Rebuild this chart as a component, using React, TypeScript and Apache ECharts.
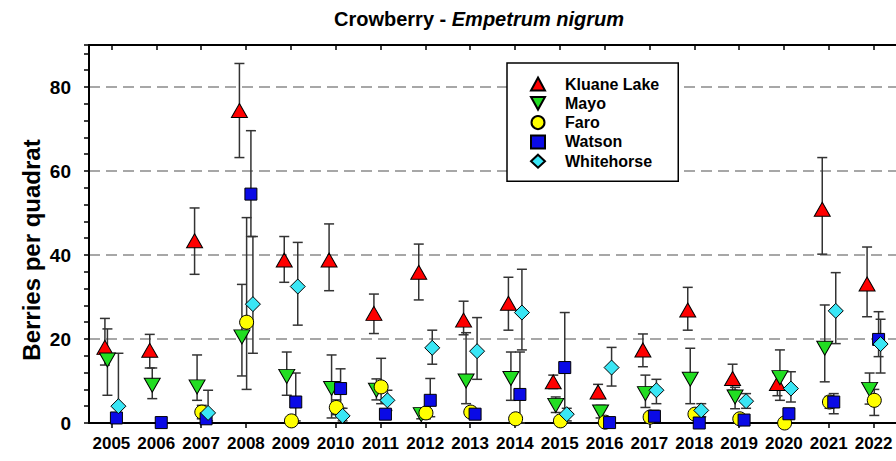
import React, { useEffect, useRef } from 'react';
import * as echarts from 'echarts';

const years = ['2005','2006','2007','2008','2009','2010','2011','2012','2013','2014','2015','2016','2017','2018','2019','2020','2021','2022'];

// Kluane Lake
const kluaneMean = [18.0, 17.3, 43.4, 74.4, 38.8, 38.8, 26.1, 35.9, 24.5, 28.5, 9.8, 7.4, 17.4, 26.9, 10.6, 9.4, 50.9, 33.1];
const kluaneLow  = [13.8, 13.1, 35.4, 63.2, 33.5, 31.5, 21.3, 29.3, 21.0, 22.1, 8.2, 5.8, 13.4, 22.1, 7.8, 6.5, 40.2, 25.3];
const kluaneHigh = [24.9, 21.1, 51.2, 85.6, 44.4, 47.4, 30.7, 42.6, 29.0, 34.7, 11.4, 9.2, 21.2, 32.3, 14.0, 12.0, 63.2, 41.9];
// Mayo
const mayoMean = [15.0, 9.0, 8.6, 20.5, 11.1, 8.2, 7.8, 2.0, 10.0, 10.6, 4.2, 2.6, 7.0, 10.4, 6.2, 10.8, 17.8, 8.0];
const mayoLow  = [6.6, 5.8, 5.4, 11.2, 6.6, 1.2, 5.5, 1.0, 4.6, 5.4, 2.5, 1.2, 3.7, 4.6, 3.4, 5.4, 9.8, 4.5];
const mayoHigh = [22.4, 13.1, 16.2, 33.0, 16.9, 16.2, 10.5, 3.0, 21.5, 16.9, 6.2, 4.2, 11.4, 17.8, 8.5, 17.4, 28.1, 11.9];
// Faro
const faroMean = [null, null, 2.6, 24.0, 0.5, 3.7, 8.6, 2.4, 2.6, 1.0, 0.5, 0.2, 1.4, 2.1, 1.0, 0.0, 5.0, 5.4];
const faroLow  = [null, null, 1.0, 8.0, null, 2.0, 4.6, 1.0, 1.5, null, null, null, null, null, null, null, 3.5, 1.8];
const faroHigh = [null, null, 4.2, 48.9, null, 5.5, 15.4, 3.5, 3.8, null, null, null, null, null, null, null, 6.3, 8.0];
// Watson
const watsonMean = [1.2, 0.1, 1.0, 54.5, 5.0, 8.2, 2.1, 5.4, 2.1, 6.8, 13.2, 0.1, 1.6, 0.0, 0.7, 2.2, 5.0, 19.9];
const watsonLow  = [null, null, null, 44.4, 0.5, 3.5, 1.2, 1.5, null, 0.0, 0.0, null, 0.5, null, null, 1.0, 2.2, 15.8];
const watsonHigh = [null, null, null, 69.6, 11.9, 12.9, 3.2, 10.6, null, 16.9, 26.3, null, 3.0, null, null, 3.2, 7.0, 26.5];
// Whitehorse
const whitehorseMean = [4.0, null, 2.4, 28.3, 32.5, 1.7, 5.4, 17.9, 17.1, 26.3, 2.1, 13.2, 7.8, 3.0, 5.2, 8.2, 26.7, 18.8];
const whitehorseLow  = [0.0, null, 0.5, 16.6, 23.3, 0.5, 3.0, 14.0, 10.4, 17.4, 0.5, 8.8, 4.6, 1.5, 3.5, 5.0, 18.9, 11.9];
const whitehorseHigh = [16.6, null, 7.8, 44.4, 43.0, 3.5, 7.8, 22.1, 25.1, 36.6, 3.5, 18.0, 10.4, 4.6, 7.0, 12.2, 35.8, 24.7];

const yLabelStep = 20;

const FONT = '"Liberation Sans", Arial, Helvetica, sans-serif';

const sites = [
  { name: 'Kluane Lake', mean: kluaneMean, low: kluaneLow, high: kluaneHigh, symbol: 'triangle', size: [16, 14], color: '#ff0000', dx: -6.5 },
  { name: 'Mayo', mean: mayoMean, low: mayoLow, high: mayoHigh, symbol: 'path://M0,0L10,0L5,9Z', size: [16, 14], color: '#22dd22', dx: -4 },
  { name: 'Faro', mean: faroMean, low: faroLow, high: faroHigh, symbol: 'circle', size: 14, color: '#ffff00', dx: 0.7 },
  { name: 'Watson', mean: watsonMean, low: watsonLow, high: watsonHigh, symbol: 'rect', size: 12, color: '#0a0ae6', dx: 5 },
  { name: 'Whitehorse', mean: whitehorseMean, low: whitehorseLow, high: whitehorseHigh, symbol: 'diamond', size: [15, 15], color: '#3ae6f5', dx: 7 },
];

export default function App() {
  const ref = useRef<HTMLDivElement>(null);
  useEffect(() => {
    if (!ref.current) return;
    const chart = echarts.init(ref.current, null, { renderer: 'svg' });

    const errSeries = sites.map((s) => ({
      type: 'custom',
      name: s.name + ' err',
      z: 2,
      silent: true,
      encode: { x: 0, y: [1, 2] },
      data: s.low
        .map((lo, i) => (lo === null || s.high[i] === null ? null : [i, lo, s.high[i]]))
        .filter((d) => d !== null),
      renderItem: (params: any, api: any) => {
        const x = api.value(0);
        const pLo = api.coord([x, api.value(1)]);
        const pHi = api.coord([x, api.value(2)]);
        const cx = pLo[0] + s.dx;
        const st = { stroke: '#333333', lineWidth: 1.5 };
        return {
          type: 'group',
          children: [
            { type: 'line', shape: { x1: cx, y1: pHi[1], x2: cx, y2: pLo[1] }, style: st },
            { type: 'line', shape: { x1: cx - 5, y1: pHi[1], x2: cx + 5, y2: pHi[1] }, style: st },
            { type: 'line', shape: { x1: cx - 5, y1: pLo[1], x2: cx + 5, y2: pLo[1] }, style: st },
          ],
        };
      },
    }));

    const markSeries = sites.map((s) => ({
      type: 'scatter',
      name: s.name,
      z: 3,
      symbol: s.symbol,
      symbolSize: s.size,
      symbolOffset: [s.dx, 0],
      itemStyle: { color: s.color, borderColor: '#000', borderWidth: 1, opacity: 1 },
      data: s.mean.map((v, i) => (v === null ? null : [i, v])).filter((d) => d !== null),
    }));

    chart.setOption({
      animation: false,
      grid: { left: 89, top: 45, width: 813.6, height: 378 },
      xAxis: [
        {
          type: 'category',
          data: years,
          position: 'bottom',
          boundaryGap: true,
          axisLine: { show: true, onZero: false, lineStyle: { color: '#000', width: 2 } },
          axisTick: { show: true, alignWithLabel: true, inside: false, length: 5, lineStyle: { color: '#000', width: 1.5 } },
          axisLabel: { color: '#000', fontFamily: FONT, fontWeight: 'bold', fontSize: 17, margin: 12, interval: 0 },
          splitLine: { show: false },
        },
        {
          type: 'category',
          data: years,
          position: 'top',
          boundaryGap: true,
          axisLine: { show: true, onZero: false, lineStyle: { color: '#000', width: 2 } },
          axisTick: { show: true, alignWithLabel: true, inside: true, length: 5, lineStyle: { color: '#000', width: 1.5 } },
          axisLabel: { show: false },
          splitLine: { show: false },
        },
      ],
      yAxis: [
        {
          type: 'value',
          min: 0,
          max: 90,
          interval: 4,
          position: 'left',
          axisLine: { show: true, onZero: false, lineStyle: { color: '#000', width: 2 } },
          axisTick: { show: true, inside: false, length: 5, lineStyle: { color: '#000', width: 1.5 } },
          axisLabel: {
            color: '#000', fontFamily: FONT, fontWeight: 'bold', fontSize: 19, margin: 18,
            formatter: (v: number) => (v % yLabelStep === 0 && v <= 80 ? String(v) : ''),
          },
          splitLine: { show: false },
        },
        {
          type: 'value',
          min: 0,
          max: 90,
          interval: yLabelStep,
          position: 'left',
          axisLine: { show: false },
          axisTick: { show: false },
          axisLabel: { show: false },
          splitLine: { show: true, showMinLine: false, showMaxLine: false, lineStyle: { color: '#8a8a8a', width: 1.5, type: [11, 6] } },
        },
      ],
      legend: {
        orient: 'vertical',
        left: 507,
        top: 63,
        backgroundColor: '#fff',
        borderColor: '#000',
        borderWidth: 1.5,
        borderRadius: 0,
        padding: [13, 19, 12, 23],
        itemWidth: 14,
        itemHeight: 13,
        itemGap: 3.3,
        textStyle: { color: '#000', fontFamily: FONT, fontWeight: 'bold', fontSize: 16, padding: [0, 0, 0, 15] },
        data: sites.map((s) => s.name),
      },
      graphic: [
        {
          type: 'text',
          x: 479,
          y: 19,
          style: {
            text: '{a|Crowberry - }{b|Empetrum nigrum}',
            align: 'center',
            verticalAlign: 'middle',
            rich: {
              a: { fontFamily: FONT, fontWeight: 'bold', fontSize: 20, fill: '#000' },
              b: { fontFamily: FONT, fontWeight: 'bold', fontStyle: 'italic', fontSize: 20, fill: '#000' },
            },
          },
        },
        {
          type: 'text',
          x: 31,
          y: 250,
          rotation: Math.PI / 2,
          style: {
            text: 'Berries per quadrat',
            align: 'center',
            verticalAlign: 'middle',
            fontFamily: FONT,
            fontWeight: 'bold',
            fontSize: 24,
            fill: '#000',
          },
        },
      ],
      series: [...errSeries, ...markSeries],
    });

    return () => chart.dispose();
  }, []);

  return <div ref={ref} style={{ position: 'absolute', left: 0, top: 0, width: 896, height: 461 }} />;
}
